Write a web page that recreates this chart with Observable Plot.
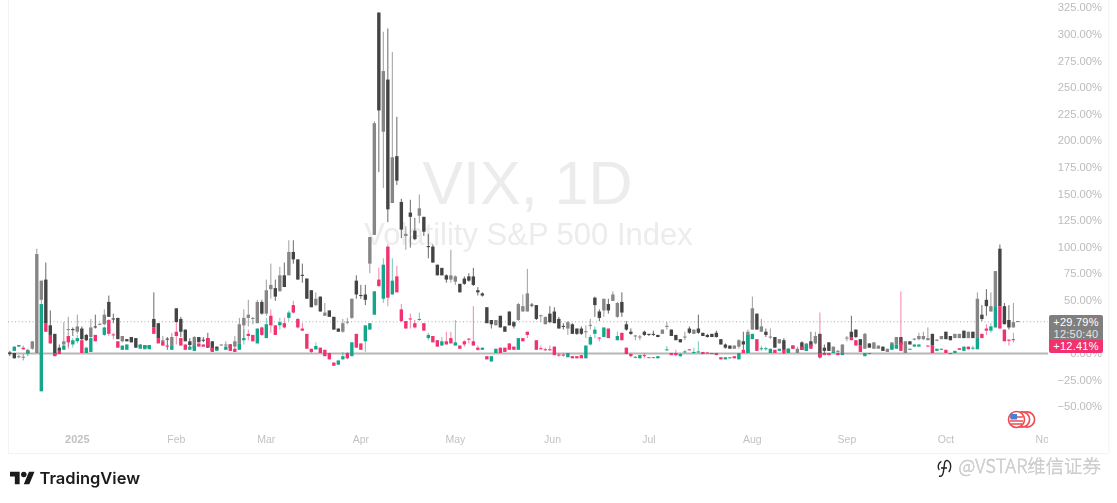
<!DOCTYPE html>
<html>
<head>
<meta charset="utf-8">
<style>
html,body{margin:0;padding:0;background:#fff;width:1117px;height:503px;overflow:hidden}
#wrap{position:relative;width:1117px;height:503px;filter:blur(.6px)}
#wrap svg{display:block;position:absolute;left:0;top:0}
.tag{position:absolute;left:1049px;width:54px;color:#fff;font:11px/12.5px "Liberation Sans",Arial,sans-serif;text-align:center;letter-spacing:.25px}
</style>
<script src="https://cdn.jsdelivr.net/npm/d3@7"></script>
<script src="https://cdn.jsdelivr.net/npm/@observablehq/plot@0.6"></script>
</head>
<body>
<div id="wrap"></div>
<script>
// Gray / dark candles (% change), one entry per trading bar
const gTop=[0.5,0,-3,-3.5,3,11,93,68,69,26,
18,5,11,22.5,22.5,25,23,17,24,25,
27.5,36,48,32.5,33,16,13,15,14,7.5,
7,7,32,28,12,13.5,15,42,32,22,
11,15,15,12.5,14,11,6,8,8,8,
11,27,33,36,33,48,48,59,64,61,
73,73,95,95,88,73.5,70,59,51,53,
38,40,34,23,28,29.5,51,68,54.5,55,
109,216,320,265,257,184,185,142,112,132,
115,136,128,100.5,100,83,80,73,73,72,
65,70,72,72,59,56,43,31,31,35,
25,39,29,46,44,56,45.5,45,35.5,34,
37,39,32,25.5,29,27,23,23,20.5,26.5,
52,39,51,46,55,47,48,27,20,16.5,
15.5,20,18,18,17,22,25.5,22,17,13,
15.5,23,22,23,19,17,18,19,13,8,
7,7,12,11,20,42,37,25,20,15.5,
15,13,12,4,7,4,10,9,11,16,
18,5,10,6,2,8,14.5,20,22,13,
18,9,10,7,6,4,10,15,15,11,
11,13.5,16,16,14,18,12.5,16,20,16,
18,18,21,20,20,51,36,50,44,77,
98,44,31,29,30];
const gBot=[-1,-5,-4,-4.5,-1,4,0,50,28,17,
-2,2,8,21.5,21.5,20,13,12,15,24,
26.5,27,34,31.5,13,11,11,10,5,6,
5,4.5,24,14,11,12.5,7,29,20,11,
7.5,5,10,11.5,5,2,3,7,7,5,
6,9,26,33,32,28,37,37,60,53,
58,62,73,88,69,72.5,51,43,45,39,
35,34,22,20,20,28.5,33,55,53.5,50,
84,111,228,208,135,141,162,116,110,128,
107,129,114,99.5,85,73,73,69,69,67,
57,65,68,64,57,54,28,27,26,24,
20,26,25,31,39,39,44.5,32,34.5,27,
29,28,23,24.5,23,18,18,18,19.5,25.5,
45,33,40,40,49,34,38,22,18,15.5,
14.5,17,17,17,15,18,24.5,16,12,10,
14.5,19,18,19,16,15,15,15,8,5,
4,4,6,8,0,22,22,20,17,14.5,
5,9,3,1,4,0,3,2,6,9,
-4,2,2,1,1,0,13.5,15,15,7,
4,5,4,4,2,1,4,8,8,0,
8,12.5,13,13,12,7,11.5,13,13,12,
14,14,14,14,14,14,32,44,39,44,
44,27,24,24,29.5];
const gHigh=[2,0,-2,-1,4,11,98,68,85,40,
18,8,29,34,24,36,25,18,32,36,
28,41,54,37,33,16,13,15,14,8,
7,7,57,28,16,15,19,42,34,22,
14,16,15,15,19,11,6,8,11,8,
16,33,41,50,34,50,50,69,84,69,
81,85,106,106,88,84,70,59,57,53,
47,40,34,23,32,33,51,73,64,64,
109,218,320,302,305,283,222,145,119,144,
127,149,128,112,102,83,80,74,97,73,
65,72,75,80,62,57,43,31,31,35,
25,39,30,47,55,79,47,45,36,34,
44,43,34,28,30,28,23,25,26,32,
53,41,51,51,58,48,57,30,23,17,
17,21,18,21,17,22,29,22,17,13,
20,25,22,36,19,18,18,21,13,9,
7,7,13,20,22,53,37,32,23,23,
15,13,14,4,7,6,11,9,20,20,
18,8,10,6,3,8,16,35,22,13,
19,9,10,7,6,4,10,15,15,11,
11,14,19,20,24,18,13,16,20,16,
18,18,21,20,20,57,45,60,57,77,
102,47,45,47,30];
const gLow=[-3,-5,-5,-7,-3,3,0,46,20,9,
-2,-1,6,6,16,18,12,11,14,23,
26,26,34,28,13,10,11,10,5,6,
5,4,24,14,7,3,3,29,15,11,
4,2,10,10,5,2,3,7,4,5,
3,9,12,25,27,28,36,35,51,49,
58,62,73,84,69,66,51,43,44,39,
35,34,22,20,19,27,32,51,51,45,
75,111,170,155,123,141,158,108,97,99,
106,122,110,89,85,73,73,66,66,64,
57,64,67,63,54,53,28,23,26,24,
20,26,23,30,39,39,43,31,29,27,
28,28,23,22,17,18,17,17,14,22,
34,30,34,37,49,33,34,21,17,12,
12,16,16,16,15,18,22,16,12,10,
12,18,18,18,16,14.5,15,14.5,8,4,
4,4,4,3,0,22,22,20,15,13,
5,9,-1,1,4,0,3,2,4,8,
-5,0,2,1,0,0,11,15,14,1,
4,5,4,4,2,1,4,8,8,0,
8,12,12,12,12,7,11,13,13,12,
14,14,14,14,14,14,30,35,39,44,
44,27,22,24,29];
const gKind=("ddggggggdd"+"ddggdgddgd"+"ggdddgdddd"+"ddddgdgddd"+"dgdddddggd"+"ggggggdggd"+"gdgdddddgd"+"gdddgggddd"+"ggdgdgddgd"+"dgddddddgg"+"ddddddddgd"+"dddgggddgg"+"ddddgdddgg"+"ddgdggdddg"+"gddddggddd"+"gdgddddddd"+"dggdggdgdg"+"dgddggdgdg"+"dddggggddd"+"gdggdgggdg"+"dggggdggdd"+"ggdgdgddgg"+"dddgd").split("");

// Teal / pink candles (% change)
const cTop=[null,6,7.5,5,2,null,null,46,28,17,
0,2,7,16,12,14,12,5,14,17,
null,24,31,17.5,11,7,8,null,null,8,
7.5,7.5,24,14,11,7,7,20,14,8,
6,7,9,8,14,5,4,null,6,8,
4,9,14,18,17,23,24,27,35,26,
29,28,38,45,32,23,18,4,6.6,5,
3,0,-9,-7,-3,0,10,18,9,26,
28,58,69,83,100,68,72,41,30,32.5,
28,32,28,17,16,12,11,11,14,10,
7,11,13.5,11,5,5,-3,-3,4,5,
5,9,6,14,14,20,null,12,4.5,3.5,
3.5,6,-1.5,-1.5,0,-3,-3,-2,7,15,
22,14.5,24,23,null,16,19,5,-1,-3.5,
-2,-2,-4,-4,-3,null,3.5,0,0,-1,
1.5,3.5,1,1.5,1,0.5,0,0,-4,-4,
-4,-3,0,3,17,18,13,4.5,4.5,4,
3,4,3,4,7,null,6,8,8,null,
0,0,0,1,0,0,null,15,12,7,
0,0,null,null,null,null,8,8,10,null,
4,8,8,null,7,7,4,4,3,0,
2,4.5,6,6,5,14,18,23,25,44,
44,22,12.5,13,null];
const cBot=[null,2,6,3.5,0,null,null,-36,20,9,
-3,-1,3,10,8,11,0,0,1,11,
null,17,18,16.5,5,3,3,null,null,4,
3.5,3.5,18,9,7,6,3,16,7,3,
3,2,6,6,6,1,2,null,3,2,
1,3,12,16,11,9,17,14,26,17,
26,24,33,38,24,21,4,1,3.4,0,
-3,-6,-12,-11,-6,-5,-3,5,3,11,
22,36,63,51,52,55,57,30,23,31.5,
24,31,21,14,10,6,7,8,9,7,
4,8,12.5,7,3,3,-6,-8,0,0,
1,3,3,3,11,17,null,3,3.5,2.5,
2.5,-2,-2.5,-2.5,-4,-5,-5,-5,-5,8,
18,13.5,15,14,null,12,12,-1,-3,-4.5,
-5,-3,-4.8,-4.8,-5,null,2.5,-2,-2,-3,
0.5,2.5,0,0.5,-1,-0.5,-1,-2,-6,-6,
-5,-5,-6,0,0,13,2,3.5,3.5,0,
0,2,0,0,4,null,3,2,4,null,
-4,-2,-2,0,-2,-2,null,12,7,1,
-3,-1,null,null,null,null,3,4,2,null,
3,6,6,null,6,0,2,3,0,-1,
0,3,2,3.5,4,3.5,14,21,21,24,
23,11,11.5,12,null];
const cHigh=[null,6,7.5,7,2,null,null,46,28,17,
0,2,7,16,14,17,12,6,14,17,
null,25,32,19,11,7,8,null,null,8,
7.5,7.5,24,14,11,7,7,29,14,8,
6,7,9,8,14,5,4,null,6,8,
4,9,22,22,17,23,25,33,41,26,
33,33,40,49,33,28,18,4,10,5,
3,0,-9,-7,1,1,10,18,9,26,
28,58,80,89,102,89,82,46,30,37,
31,38,28,19,16,12,15,20,20,31,
7,12,14,44,7,5,-3,-3,4,5,
5,9,6,14,14,20,null,12,7,5,
7,6,0,0,0,-3,-3,-2,7,17,
25,15,24,23,null,20,19,5,0,-3,
-2,0,-4,-4,-3,null,6.5,0,3,0,
3,3.5,5,11,1,0.5,0,0,-4,-4,
-4,-3,0,3,17,18,13,7,6,4,
3,4,3,4,7,null,6,8,8,null,
38,0,0,1,0,0,null,15,12,7,
0,0,null,null,null,null,8,8,58,null,
4,8,8,null,7,7,4,4,3,0,
2,4.5,6,6,7,14,18,27,28,44,
44,22,13,19,null];
const cLow=[null,2,6,3,0,null,null,-36,20,9,
-3,-1,3,4,5,9,0,0,1,11,
null,16,16,13,5,3,3,null,null,4,
3.5,3.5,18,9,7,6,3,8,7,3,
3,2,6,6,6,1,2,null,3,2,
1,3,8,12,11,9,16,14,19,17,
22,23,30,37,23,21,4,0,3,0,
-3,-6,-12,-11,-6,-6,-3,5,3,1,
22,36,62,47,44,55,57,29,23,23,
23,30,21,12,10,6,7,8,9,7,
4,6,9,7,2,3,-6,-8,0,0,
1,3,3,3,11,14,null,3,3,2,
2,-2,-3.5,-3.5,-4,-5,-5,-5,-5,7,
14,11,15,14,null,12,12,-1,-4,-5,
-5,-5,-5,-5,-5,null,2,-2,-3,-3.5,
0,2.5,-1,0,-1,-0.5,-1,-2,-6,-6,
-5,-5,-6,0,0,13,2,2,2,0,
0,2,0,0,4,null,3,2,4,null,
-5,-2,-2,0,-2,-2,null,12,7,1,
-3,-1,null,null,null,null,3,4,2,null,
3,6,6,null,6,0,2,3,0,-1,
0,3,2,3.5,3,3.5,14,17,19,24,
23,11,7,10,null];
const cKind=("-ttpt--tpp"+"pptpttpttp"+"-tppptt--t"+"ttpppptppp"+"ttppppt-tp"+"pttpptptpp"+"tptppppptp"+"pppttptppt"+"ttptptpppp"+"ptptpptppt"+"ppppptpttp"+"ppptpp-ppp"+"pppptppptt"+"tptp-tpppt"+"tpppt-tppt"+"tpttpppppt"+"tptpttpttt"+"ptptp-ptp-"+"ppptpt-ppp"+"tt----ttp-"+"ttt-ppttpt"+"tptpttpptt"+"pppp-").split("");

const monthBars=[15,37,57,78,99,120.6,142,165,186,208,230];
const monthLabels=["2025","Feb","Mar","Apr","May","Jun","Jul","Aug","Sep","Oct","Nov"];
const yTicks=[325,300,275,250,225,200,175,150,125,100,75,50,0,-25,-50];
const lastGray=29.79;

const font='"Liberation Sans",Arial,sans-serif';
const table=(top,bot,hi,lo,kind)=>top.map((t,i)=>({i,top:t,bot:bot[i],hi:hi[i],lo:lo[i],kind:kind[i]})).filter(d=>d.top!==null&&d.kind!=="-");
const grayBars=table(gTop,gBot,gHigh,gLow,gKind);
const colorBars=table(cTop,cBot,cHigh,cLow,cKind);
const pct=d=>(d<0?"\u2212":"")+Math.abs(d).toFixed(2)+"%";
const monthText=new Map(monthBars.map((b,i)=>[b,monthLabels[i]]));

const color={domain:["g","d","t","p"],range:["#868686","#444444","#14a68c","#f2316f"]};
const chart=Plot.plot({
  width:1117,height:503,marginTop:0,marginLeft:8,marginRight:69,marginBottom:50,
  style:{background:"transparent",fontFamily:font},
  x:{domain:[-0.29,230.8],axis:null},
  y:{domain:[-94,331.8],axis:null},
  color,
  marks:[
    Plot.ruleX([-0.29,244.2],{y1:-94,y2:331.8,stroke:"#f3f3f3"}),
    Plot.ruleY([-94],{x1:-0.29,x2:244.2,stroke:"#f3f3f3"}),
    Plot.text(["VIX, 1D"],{frameAnchor:"top-left",lineAnchor:"middle",dx:519,dy:184,text:d=>d,fontSize:61,fill:"#ececec",textAnchor:"middle"}),
    Plot.text(["Volatility S&P 500 Index"],{frameAnchor:"top-left",lineAnchor:"middle",dx:520,dy:235,text:d=>d,fontSize:31,fill:"#ececec",textAnchor:"middle"}),
    Plot.ruleY([lastGray],{stroke:"#a8a8a8",strokeDasharray:"1,2.5"}),
    Plot.ruleY([0],{stroke:"#b6b6b6",strokeWidth:2}),
    Plot.ruleX(grayBars,{x:"i",y1:"lo",y2:"hi",stroke:"kind",strokeWidth:1,strokeOpacity:.8}),
    Plot.ruleX(grayBars,{x:"i",y1:"bot",y2:"top",stroke:"kind",strokeWidth:3.4}),
    Plot.ruleX(colorBars,{x:"i",y1:"lo",y2:"hi",stroke:"kind",strokeWidth:1,strokeOpacity:.6}),
    Plot.ruleX(colorBars,{x:"i",y1:"bot",y2:"top",stroke:"kind",strokeWidth:3.4}),
    Plot.axisY(yTicks,{anchor:"right",label:null,tickSize:0,tickPadding:53.5,textAnchor:"end",tickFormat:pct,fontSize:11.2,fill:"#bcbcbc"}),
    Plot.axisX(monthBars.filter(b=>b!==15),{anchor:"bottom",label:null,tickSize:0,tickPadding:-18,tickFormat:b=>monthText.get(b),fontSize:10.5,fill:"#c2c2c2",clip:true}),
    Plot.axisX(monthBars.filter(b=>b===15),{anchor:"bottom",label:null,tickSize:0,tickPadding:-18,tickFormat:b=>monthText.get(b),fontSize:11,fontWeight:700,fill:"#c2c2c2"}),
    Plot.text(["TradingView"],{frameAnchor:"top-left",lineAnchor:"middle",dx:31,dy:478,text:d=>d,textAnchor:"start",fontFamily:"Inter",fontWeight:600,fontSize:16.5,fill:"#1c1c1c"}),
    Plot.text(["@VSTAR维信证券"],{frameAnchor:"top-left",lineAnchor:"middle",dx:950,dy:467,text:d=>d,textAnchor:"start",fontFamily:'"Noto Sans CJK SC"',fontWeight:300,fontSize:18.4,fill:"#cfcfcf",stroke:"#9a9a9a",strokeWidth:.3})
  ]
});
const wrap=document.getElementById("wrap");
wrap.appendChild(chart);

// Price tags, logo glyph, flag badge and note icon over the chart
wrap.insertAdjacentHTML("beforeend",`
<div class="tag" style="top:315px;height:25px;background:#7f7f7f;border-radius:2px 2px 0 0;padding-top:.5px;box-sizing:border-box">+29.79%<br><span style="color:#e4e4e4">12:50:40</span></div>
<div class="tag" style="top:340px;height:13px;background:#f2316f;border-radius:0 0 2px 2px">+12.41%</div>
<svg width="36" height="28" viewBox="0 0 36 28" style="left:10px;top:469px;transform-origin:0 0;transform:scale(.69)"><path fill="#1c1c1c" d="M14 22H7V11H0V4h14v18zM28 22h-8l7.5-18h8L28 22z"/><circle fill="#1c1c1c" cx="20" cy="8" r="4"/></svg>
<svg width="30" height="20" viewBox="0 0 30 20" style="left:1007px;top:410px">
 <circle cx="20" cy="9.500" r="7.600" fill="#fff" stroke="#ef4a4f" stroke-width="1.600"/>
 <circle cx="15" cy="9.500" r="7.600" fill="#fff" stroke="#ef4a4f" stroke-width="1.600"/>
 <circle cx="9.500" cy="9.500" r="8" fill="#fff" stroke="#ef4a4f" stroke-width="1.600"/>
 <path d="M3 7h13M3 11h13M4 14h11" stroke="#ef4a4f" stroke-width="1.500"/>
 <rect x="3.500" y="4" width="6.500" height="5.500" fill="#4a7fd9"/>
</svg>
<svg width="18" height="20" viewBox="0 0 18 20" style="left:936px;top:458px"><path d="M3 18c2.500 1 4-1 4.400-4L8.600 5c.4-2.400 2.400-3 3.800-2 3 2 3 8 .4 11M3.400 12C1.200 9.600 2 5 5.400 3.400M5 10h6" fill="none" stroke="#222" stroke-width="1.400"/></svg>
`);
</script>
</body>
</html>
